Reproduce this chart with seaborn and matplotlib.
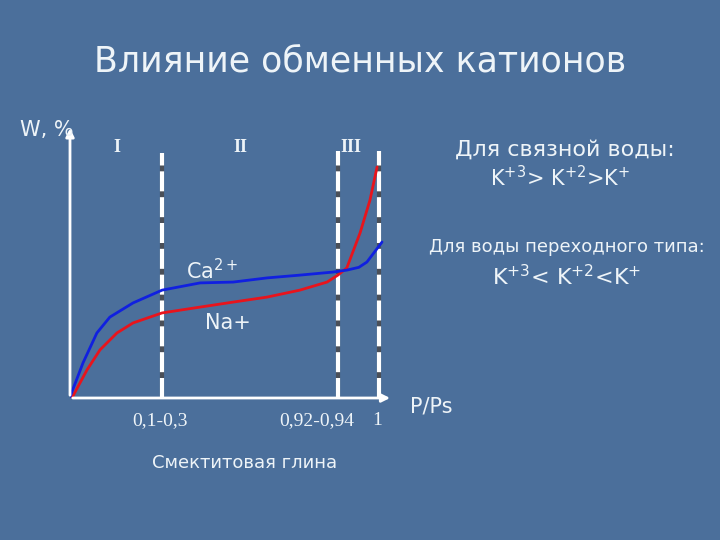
import numpy as np
import pandas as pd
import matplotlib.pyplot as plt
import seaborn as sns

# схематичная шкала P/Ps (0..1), W в условных единицах
x_ca = [0, 0.042, 0.087, 0.129, 0.204, 0.298, 0.421, 0.528, 0.638, 0.744, 0.851, 0.896, 0.935, 0.961, 1.01]
w_ca = [0.4, 12.6, 23.4, 29.1, 34.2, 38.8, 41.4, 41.7, 43.2, 44.2, 45.3, 46.0, 47.0, 48.9, 56.1]

x_na = [0.006, 0.055, 0.097, 0.152, 0.204, 0.298, 0.421, 0.528, 0.638, 0.744, 0.832, 0.867, 0.896, 0.939, 0.971, 0.994]
w_na = [0, 10.1, 17.3, 23.4, 27.0, 30.6, 32.7, 34.5, 36.3, 38.8, 41.7, 44.2, 46.8, 59.4, 71.2, 83.1]

region_x = [0.298, 0.867, 1.0]
region_top = [88, 89, 89]
region_names = ["I", "II", "III"]
region_name_x = [0.152, 0.55, 0.91]
tick_text = ["0,1-0,3", "0,92-0,94", "1"]
tick_x = [0.29, 0.80, 0.995]

bg = "#4b6f9b"
txt = "#eef4f8"

sns.set_theme(style="white")
plt.rcParams['font.family'] = ['DejaVu Sans']

fig = plt.figure(figsize=(7.2, 5.4), dpi=100, facecolor=bg)
ax = fig.add_axes([70 / 720, (540 - 398) / 540, 325 / 720, 283 / 540])
ax.set_facecolor("none")
ax.set_xlim(0, 1.052)
ax.set_ylim(0, 101.8)
for s in ax.spines.values():
    s.set_visible(False)
ax.set_xticks([])
ax.set_yticks([])

# пунктирные границы областей
for xv, top in zip(region_x, region_top):
    ax.plot([xv, xv], [0, top], color="#4a4f58", lw=3, solid_capstyle="butt")
    ax.plot([xv, xv], [0, top], color="white", lw=3, linestyle=(0, (4.8, 1.4)))

df_ca = pd.DataFrame({"x": x_ca, "w": w_ca})
df_na = pd.DataFrame({"x": x_na, "w": w_na})
sns.lineplot(data=df_na, x="x", y="w", color="#e8141c", lw=2, sort=False, ax=ax)
sns.lineplot(data=df_ca, x="x", y="w", color="#1020e0", lw=2, sort=False, ax=ax)
ax.set_xlabel("")
ax.set_ylabel("")

# оси со стрелками
ax.annotate("", xy=(1.045, 0), xytext=(0, 0),
            arrowprops=dict(arrowstyle="-|>", color="white", lw=2, mutation_scale=12))
ax.annotate("", xy=(0, 98), xytext=(0, 0),
            arrowprops=dict(arrowstyle="-|>", color="white", lw=2, mutation_scale=12))

for nm, xv in zip(region_names, region_name_x):
    ax.text(xv, 90, nm, color=txt, fontsize=13, fontweight="bold",
            family="Liberation Serif", ha="center", va="center")

for t, xv in zip(tick_text, tick_x):
    ax.text(xv, -8, t, color=txt, fontsize=14, family="Liberation Serif",
            ha="center", va="center")

ax.text(0.46, 46, r"Ca$^{2+}$", color=txt, fontsize=15, ha="center", va="center")
ax.text(0.51, 27, "Na+", color=txt, fontsize=15, ha="center", va="center")

fig.text(360 / 720, 1 - 62 / 540, "Влияние обменных катионов", color=txt,
         fontsize=25, ha="center", va="center")
fig.text(20 / 720, 1 - 130 / 540, "W, %", color=txt, fontsize=15, ha="left", va="center")
fig.text(410 / 720, 1 - 407 / 540, "P/Ps", color=txt, fontsize=15, ha="left", va="center")
fig.text(245 / 720, 1 - 463 / 540, "Смектитовая глина", color=txt, fontsize=13,
         ha="center", va="center")

fig.text(565 / 720, 1 - 150 / 540, "Для связной воды:", color=txt, fontsize=16,
         ha="center", va="center")
fig.text(560 / 720, 1 - 178 / 540, r"K$^{+3}$> K$^{+2}$>K$^{+}$", color=txt, fontsize=15,
         ha="center", va="center")
fig.text(567 / 720, 1 - 247 / 540, "Для воды переходного типа:", color=txt, fontsize=13,
         ha="center", va="center")
fig.text(567 / 720, 1 - 277 / 540, r"K$^{+3}$< K$^{+2}$<K$^{+}$", color=txt, fontsize=16,
         ha="center", va="center")

fig.savefig("out.png", dpi=100, facecolor=bg)
